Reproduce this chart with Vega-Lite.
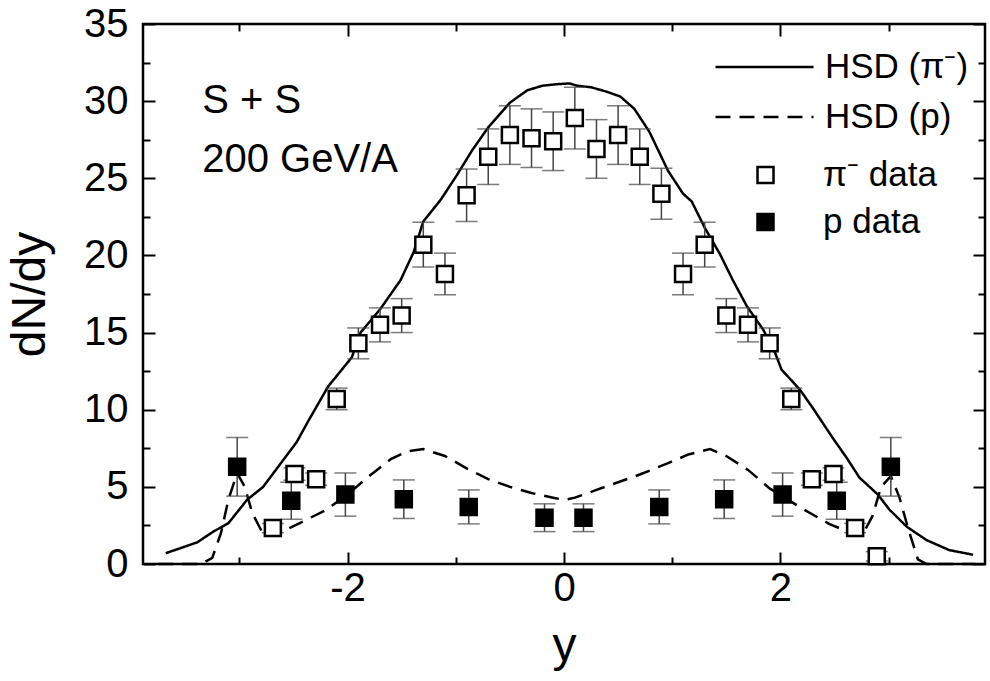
{
  "$schema": "https://vega.github.io/schema/vega-lite/v6.json",
  "width": 842,
  "height": 540,
  "autosize": {"type": "none"},
  "padding": {"left": 143, "top": 24, "right": 5, "bottom": 117},
  "background": "white",
  "config": {
    "view": {"stroke": "black", "strokeWidth": 2.5},
    "font": "Liberation Sans",
    "axis": {
      "grid": false,
      "domain": false,
      "tickColor": "black",
      "tickWidth": 2,
      "labelColor": "black",
      "labelFont": "Liberation Sans",
      "labelFontSize": 40,
      "titleFont": "Liberation Sans",
      "titleFontSize": 48,
      "titleFontWeight": "normal",
      "titleColor": "black"
    }
  },
  "datasets": {
    "lines": [
      {"curve": "HSD (π⁻)", "rap": -3.68, "dndy": 0.7},
      {"curve": "HSD (π⁻)", "rap": -3.39, "dndy": 1.4},
      {"curve": "HSD (π⁻)", "rap": -3.24, "dndy": 2.1},
      {"curve": "HSD (π⁻)", "rap": -3.1, "dndy": 2.65},
      {"curve": "HSD (π⁻)", "rap": -2.93, "dndy": 4.15},
      {"curve": "HSD (π⁻)", "rap": -2.78, "dndy": 5.0},
      {"curve": "HSD (π⁻)", "rap": -2.62, "dndy": 6.5},
      {"curve": "HSD (π⁻)", "rap": -2.47, "dndy": 7.9},
      {"curve": "HSD (π⁻)", "rap": -2.36, "dndy": 9.3},
      {"curve": "HSD (π⁻)", "rap": -2.18, "dndy": 11.5},
      {"curve": "HSD (π⁻)", "rap": -1.96, "dndy": 13.4},
      {"curve": "HSD (π⁻)", "rap": -1.88, "dndy": 15.0},
      {"curve": "HSD (π⁻)", "rap": -1.7, "dndy": 16.5},
      {"curve": "HSD (π⁻)", "rap": -1.51, "dndy": 18.4},
      {"curve": "HSD (π⁻)", "rap": -1.39, "dndy": 20.2},
      {"curve": "HSD (π⁻)", "rap": -1.3, "dndy": 22.2},
      {"curve": "HSD (π⁻)", "rap": -1.14, "dndy": 23.6},
      {"curve": "HSD (π⁻)", "rap": -0.99, "dndy": 25.2},
      {"curve": "HSD (π⁻)", "rap": -0.85, "dndy": 26.8},
      {"curve": "HSD (π⁻)", "rap": -0.7, "dndy": 28.3},
      {"curve": "HSD (π⁻)", "rap": -0.5, "dndy": 29.9},
      {"curve": "HSD (π⁻)", "rap": -0.34, "dndy": 30.7},
      {"curve": "HSD (π⁻)", "rap": -0.2, "dndy": 31.0},
      {"curve": "HSD (π⁻)", "rap": -0.06, "dndy": 31.1},
      {"curve": "HSD (π⁻)", "rap": 0.05, "dndy": 31.15},
      {"curve": "HSD (π⁻)", "rap": 0.12, "dndy": 31.0},
      {"curve": "HSD (π⁻)", "rap": 0.25, "dndy": 30.9},
      {"curve": "HSD (π⁻)", "rap": 0.4, "dndy": 30.6},
      {"curve": "HSD (π⁻)", "rap": 0.52, "dndy": 30.3},
      {"curve": "HSD (π⁻)", "rap": 0.65, "dndy": 29.5},
      {"curve": "HSD (π⁻)", "rap": 0.79, "dndy": 28.0},
      {"curve": "HSD (π⁻)", "rap": 0.96, "dndy": 25.5},
      {"curve": "HSD (π⁻)", "rap": 1.1, "dndy": 24.0},
      {"curve": "HSD (π⁻)", "rap": 1.18, "dndy": 23.5},
      {"curve": "HSD (π⁻)", "rap": 1.3, "dndy": 21.8},
      {"curve": "HSD (π⁻)", "rap": 1.44, "dndy": 20.1},
      {"curve": "HSD (π⁻)", "rap": 1.56, "dndy": 18.4},
      {"curve": "HSD (π⁻)", "rap": 1.69, "dndy": 16.7},
      {"curve": "HSD (π⁻)", "rap": 1.84, "dndy": 15.2},
      {"curve": "HSD (π⁻)", "rap": 1.95, "dndy": 13.7},
      {"curve": "HSD (π⁻)", "rap": 2.01, "dndy": 12.6},
      {"curve": "HSD (π⁻)", "rap": 2.18, "dndy": 11.3},
      {"curve": "HSD (π⁻)", "rap": 2.3, "dndy": 10.1},
      {"curve": "HSD (π⁻)", "rap": 2.48, "dndy": 8.2},
      {"curve": "HSD (π⁻)", "rap": 2.61, "dndy": 6.9},
      {"curve": "HSD (π⁻)", "rap": 2.73, "dndy": 5.6},
      {"curve": "HSD (π⁻)", "rap": 2.9, "dndy": 4.5},
      {"curve": "HSD (π⁻)", "rap": 3.01, "dndy": 3.5},
      {"curve": "HSD (π⁻)", "rap": 3.17, "dndy": 2.4},
      {"curve": "HSD (π⁻)", "rap": 3.35, "dndy": 1.55},
      {"curve": "HSD (π⁻)", "rap": 3.56, "dndy": 0.9},
      {"curve": "HSD (π⁻)", "rap": 3.78, "dndy": 0.6},
      {"curve": "HSD (p)", "rap": -3.75, "dndy": 0},
      {"curve": "HSD (p)", "rap": -3.35, "dndy": 0},
      {"curve": "HSD (p)", "rap": -3.25, "dndy": 0.4},
      {"curve": "HSD (p)", "rap": -3.17, "dndy": 2.0},
      {"curve": "HSD (p)", "rap": -3.1, "dndy": 4.2},
      {"curve": "HSD (p)", "rap": -3.02, "dndy": 5.9},
      {"curve": "HSD (p)", "rap": -2.95, "dndy": 5.0},
      {"curve": "HSD (p)", "rap": -2.88, "dndy": 3.3},
      {"curve": "HSD (p)", "rap": -2.77, "dndy": 1.8},
      {"curve": "HSD (p)", "rap": -2.6, "dndy": 2.1},
      {"curve": "HSD (p)", "rap": -2.4, "dndy": 2.8},
      {"curve": "HSD (p)", "rap": -2.2, "dndy": 3.5},
      {"curve": "HSD (p)", "rap": -2.0, "dndy": 4.5},
      {"curve": "HSD (p)", "rap": -1.8, "dndy": 5.7},
      {"curve": "HSD (p)", "rap": -1.6, "dndy": 6.8},
      {"curve": "HSD (p)", "rap": -1.45, "dndy": 7.3},
      {"curve": "HSD (p)", "rap": -1.3, "dndy": 7.45},
      {"curve": "HSD (p)", "rap": -1.1, "dndy": 7.0},
      {"curve": "HSD (p)", "rap": -0.9, "dndy": 6.2},
      {"curve": "HSD (p)", "rap": -0.7, "dndy": 5.5},
      {"curve": "HSD (p)", "rap": -0.5, "dndy": 5.0},
      {"curve": "HSD (p)", "rap": -0.3, "dndy": 4.6},
      {"curve": "HSD (p)", "rap": -0.1, "dndy": 4.3},
      {"curve": "HSD (p)", "rap": 0.0, "dndy": 4.15},
      {"curve": "HSD (p)", "rap": 0.1, "dndy": 4.3},
      {"curve": "HSD (p)", "rap": 0.3, "dndy": 4.8},
      {"curve": "HSD (p)", "rap": 0.5, "dndy": 5.3},
      {"curve": "HSD (p)", "rap": 0.7, "dndy": 5.8},
      {"curve": "HSD (p)", "rap": 0.95, "dndy": 6.5},
      {"curve": "HSD (p)", "rap": 1.15, "dndy": 7.1},
      {"curve": "HSD (p)", "rap": 1.35, "dndy": 7.45},
      {"curve": "HSD (p)", "rap": 1.5, "dndy": 7.0},
      {"curve": "HSD (p)", "rap": 1.7, "dndy": 6.1},
      {"curve": "HSD (p)", "rap": 1.9, "dndy": 4.9},
      {"curve": "HSD (p)", "rap": 2.2, "dndy": 3.6},
      {"curve": "HSD (p)", "rap": 2.45, "dndy": 2.6},
      {"curve": "HSD (p)", "rap": 2.62, "dndy": 2.1},
      {"curve": "HSD (p)", "rap": 2.75, "dndy": 1.8},
      {"curve": "HSD (p)", "rap": 2.85, "dndy": 3.1},
      {"curve": "HSD (p)", "rap": 2.93, "dndy": 5.0},
      {"curve": "HSD (p)", "rap": 3.02, "dndy": 5.7},
      {"curve": "HSD (p)", "rap": 3.1, "dndy": 4.3},
      {"curve": "HSD (p)", "rap": 3.18, "dndy": 2.3},
      {"curve": "HSD (p)", "rap": 3.27, "dndy": 0.3},
      {"curve": "HSD (p)", "rap": 3.35, "dndy": 0},
      {"curve": "HSD (p)", "rap": 3.8, "dndy": 0}
    ],
    "points": [
      {"sample": "π⁻ data", "rap": -2.69, "dndy": 2.33, "err": 0.3},
      {"sample": "π⁻ data", "rap": -2.49, "dndy": 5.83, "err": 0.4},
      {"sample": "π⁻ data", "rap": -2.29, "dndy": 5.5, "err": 0.4},
      {"sample": "π⁻ data", "rap": -2.1, "dndy": 10.7, "err": 0.7},
      {"sample": "π⁻ data", "rap": -1.9, "dndy": 14.3, "err": 1.0},
      {"sample": "π⁻ data", "rap": -1.7, "dndy": 15.5, "err": 1.1},
      {"sample": "π⁻ data", "rap": -1.5, "dndy": 16.1, "err": 1.1},
      {"sample": "π⁻ data", "rap": -1.3, "dndy": 20.7, "err": 1.45},
      {"sample": "π⁻ data", "rap": -1.1, "dndy": 18.8, "err": 1.35},
      {"sample": "π⁻ data", "rap": -0.9, "dndy": 23.9, "err": 1.7},
      {"sample": "π⁻ data", "rap": -0.7, "dndy": 26.4, "err": 1.8},
      {"sample": "π⁻ data", "rap": -0.5, "dndy": 27.8, "err": 1.9},
      {"sample": "π⁻ data", "rap": -0.3, "dndy": 27.6, "err": 1.9},
      {"sample": "π⁻ data", "rap": -0.1, "dndy": 27.4, "err": 1.9},
      {"sample": "π⁻ data", "rap": 0.1, "dndy": 28.9, "err": 2.0},
      {"sample": "π⁻ data", "rap": 0.3, "dndy": 26.9, "err": 1.9},
      {"sample": "π⁻ data", "rap": 0.5, "dndy": 27.8, "err": 1.9},
      {"sample": "π⁻ data", "rap": 0.7, "dndy": 26.4, "err": 1.8},
      {"sample": "π⁻ data", "rap": 0.9, "dndy": 24.0, "err": 1.65},
      {"sample": "π⁻ data", "rap": 1.1, "dndy": 18.8, "err": 1.35},
      {"sample": "π⁻ data", "rap": 1.3, "dndy": 20.7, "err": 1.45},
      {"sample": "π⁻ data", "rap": 1.5, "dndy": 16.1, "err": 1.1},
      {"sample": "π⁻ data", "rap": 1.7, "dndy": 15.5, "err": 1.1},
      {"sample": "π⁻ data", "rap": 1.9, "dndy": 14.3, "err": 1.0},
      {"sample": "π⁻ data", "rap": 2.1, "dndy": 10.7, "err": 0.7},
      {"sample": "π⁻ data", "rap": 2.29, "dndy": 5.5, "err": 0.4},
      {"sample": "π⁻ data", "rap": 2.49, "dndy": 5.83, "err": 0.4},
      {"sample": "π⁻ data", "rap": 2.69, "dndy": 2.33, "err": 0.3},
      {"sample": "π⁻ data", "rap": 2.89, "dndy": 0.5, "err": 0.3},
      {"sample": "p data", "rap": -3.02, "dndy": 6.3, "err": 1.9},
      {"sample": "p data", "rap": -2.52, "dndy": 4.1, "err": 1.2},
      {"sample": "p data", "rap": -2.02, "dndy": 4.5, "err": 1.4},
      {"sample": "p data", "rap": -1.48, "dndy": 4.2, "err": 1.25},
      {"sample": "p data", "rap": -0.88, "dndy": 3.7, "err": 1.1},
      {"sample": "p data", "rap": -0.18, "dndy": 3.0, "err": 0.9},
      {"sample": "p data", "rap": 0.18, "dndy": 3.0, "err": 0.9},
      {"sample": "p data", "rap": 0.88, "dndy": 3.7, "err": 1.1},
      {"sample": "p data", "rap": 1.48, "dndy": 4.2, "err": 1.25},
      {"sample": "p data", "rap": 2.02, "dndy": 4.5, "err": 1.4},
      {"sample": "p data", "rap": 2.52, "dndy": 4.1, "err": 1.2},
      {"sample": "p data", "rap": 3.02, "dndy": 6.3, "err": 1.9}
    ]
  },
  "resolve": {"axis": {"x": "independent", "y": "independent"}},
  "layer": [
    {
      "data": {"name": "lines"},
      "mark": {"type": "line", "color": "black", "strokeWidth": 2.5},
      "encoding": {
        "x": {
          "field": "rap", "type": "quantitative",
          "scale": {"domain": [-3.89, 3.89], "nice": false, "zero": false},
          "axis": {
            "orient": "bottom", "title": "y",
            "values": [-2, 0, 2],
            "labelExpr": "replace(datum.label, '−', '-')",
            "tickSize": 12, "offset": -12,
            "labelPadding": 4,
            "titlePadding": 14
          }
        },
        "y": {
          "field": "dndy", "type": "quantitative",
          "scale": {"domain": [0, 35], "nice": false, "zero": false},
          "axis": {
            "orient": "left", "title": "dN/dy",
            "values": [0, 5, 10, 15, 20, 25, 30, 35],
            "tickSize": 12, "offset": -12,
            "labelPadding": 15,
            "titlePadding": 29
          }
        },
        "strokeDash": {
          "field": "curve", "type": "nominal",
          "scale": {"domain": ["HSD (π⁻)", "HSD (p)"], "range": [[1, 0], [15, 9]]},
          "legend": {
            "title": null, "orient": "none", "legendX": 571, "legendY": 25,
            "padding": 0, "symbolType": "stroke", "symbolSize": 9604,
            "symbolStrokeWidth": 2.5, "symbolStrokeColor": "black",
            "labelFont": "Liberation Sans", "labelFontSize": 35, "labelColor": "black",
            "labelLimit": 400, "labelOffset": 10, "clipHeight": 36, "rowPadding": 14
          }
        }
      }
    },
    {
      "data": {"name": "points"},
      "mark": {"type": "errorbar", "color": "#444", "thickness": 1.5, "ticks": {"size": 22, "color": "#444"}},
      "encoding": {
        "x": {
          "field": "rap", "type": "quantitative",
          "axis": {"orient": "top", "title": null, "labels": false, "values": [-2, 0, 2], "tickSize": 12, "offset": -12}
        },
        "y": {
          "field": "dndy", "type": "quantitative",
          "axis": {"orient": "right", "title": null, "labels": false, "values": [0, 5, 10, 15, 20, 25, 30, 35], "tickSize": 12, "offset": -12}
        },
        "yError": {"field": "err"}
      }
    },
    {
      "data": {"name": "points"},
      "mark": {"type": "point", "shape": "square", "size": 256, "filled": true, "stroke": "black", "strokeWidth": 2.5, "opacity": 1},
      "encoding": {
        "x": {
          "field": "rap", "type": "quantitative",
          "axis": {"orient": "top", "title": null, "labels": false, "values": [-3, -1, 1, 3], "tickSize": 7, "offset": -7}
        },
        "y": {
          "field": "dndy", "type": "quantitative",
          "axis": {"orient": "right", "title": null, "labels": false, "values": [2.5, 7.5, 12.5, 17.5, 22.5, 27.5, 32.5], "tickSize": 7, "offset": -7}
        },
        "fill": {
          "field": "sample", "type": "nominal",
          "scale": {"domain": ["π⁻ data", "p data"], "range": ["white", "black"]},
          "legend": {
            "title": null, "orient": "none", "legendX": 605, "legendY": 133,
            "padding": 0, "symbolType": "square", "symbolSize": 256,
            "symbolStrokeWidth": 2.5, "symbolStrokeColor": "black", "symbolOpacity": 1,
            "labelFont": "Liberation Sans", "labelFontSize": 35, "labelColor": "black",
            "labelLimit": 400, "labelOffset": 40, "clipHeight": 36, "rowPadding": 11
          }
        }
      }
    },
    {
      "data": {"values": [{}]},
      "mark": {"type": "text", "text": ["S + S", "200 GeV/A"], "align": "left", "baseline": "alphabetic", "fontSize": 40, "lineHeight": 59, "font": "Liberation Sans", "color": "black"},
      "encoding": {
        "x": {
          "datum": -3.343, "type": "quantitative",
          "axis": {"orient": "bottom", "title": null, "labels": false, "values": [-3, -1, 1, 3], "tickSize": 7, "offset": -7}
        },
        "y": {
          "datum": 29.23, "type": "quantitative",
          "axis": {"orient": "left", "title": null, "labels": false, "values": [2.5, 7.5, 12.5, 17.5, 22.5, 27.5, 32.5], "tickSize": 7, "offset": -7}
        }
      }
    }
  ]
}
